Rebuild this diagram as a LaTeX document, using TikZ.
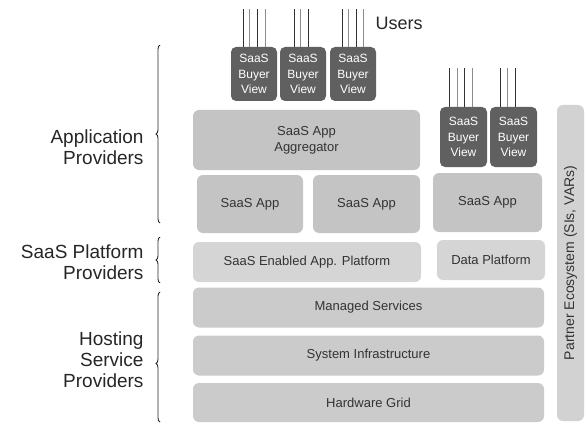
\documentclass[tikz,border=0pt]{standalone}
\usepackage{fontspec}
\setmainfont{Liberation Sans}
\usetikzlibrary{decorations.pathreplacing,calc}

\definecolor{viewgray}{HTML}{606060}
\definecolor{appgray}{HTML}{C4C4C4}
\definecolor{platgray}{HTML}{D5D5D5}
\definecolor{hostgray}{HTML}{CBCBCB}
\definecolor{bargray}{HTML}{D2D2D2}
\definecolor{inkgray}{HTML}{333333}

\tikzset{
  layer/.style={rounded corners=6pt, inner sep=0pt, align=center,
    text=inkgray, font=\fontsize{13}{16}\selectfont},
  appbox/.style={layer, fill=appgray},
  platbox/.style={layer, fill=platgray},
  hostbox/.style={layer, fill=hostgray, minimum width=351pt, minimum height=40pt},
  viewbox/.style={rounded corners=5pt, inner sep=0pt, align=center, fill=viewgray,
    text=white, font=\fontsize{12}{15.5}\selectfont},
  userline/.style={line width=0.9pt, draw=black!80},
  userlinelt/.style={line width=0.9pt, draw=black!45},
  rolebrace/.style={decorate, decoration={brace, amplitude=4pt},
    line width=0.9pt, draw=black!85},
  rolelabel/.style={anchor=east, align=right, text=black!85,
    font=\fontsize{19}{21}\selectfont},
}

\begin{document}
\begin{tikzpicture}[x=1pt, y=-1pt]
\useasboundingbox (0,0) rectangle (586,425);

% buyer views on top of the aggregator
\node[viewbox, minimum width=46pt, minimum height=54pt] (bv1) at (254,74) {SaaS\\Buyer\\View};
\node[viewbox, minimum width=46pt, minimum height=54pt] (bv2) at (303,74) {SaaS\\Buyer\\View};
\node[viewbox, minimum width=46pt, minimum height=54pt] (bv3) at (353,74) {SaaS\\Buyer\\View};
% buyer views on top of the standalone app
\node[viewbox, minimum width=47pt, minimum height=60pt] (bv4) at (463.5,137) {SaaS\\Buyer\\View};
\node[viewbox, minimum width=47pt, minimum height=60pt] (bv5) at (513.5,137) {SaaS\\Buyer\\View};

% application layer
\node[appbox, minimum width=227pt, minimum height=60pt] (agg) at (306.5,140) {SaaS App\\Aggregator};
\node[appbox, minimum width=106pt, minimum height=58pt] (app1) at (250,204) {SaaS App};
\node[appbox, minimum width=107pt, minimum height=58pt] (app2) at (366.5,204) {SaaS App};
\node[appbox, minimum width=109pt, minimum height=59pt] (app3) at (487.5,202.5) {SaaS App};

% platform layer
\node[platbox, minimum width=228pt, minimum height=40pt] (sep) at (307,262) {SaaS Enabled App. Platform};
\node[platbox, minimum width=108pt, minimum height=40pt] (dp) at (491,260) {Data Platform};

% hosting layers
\node[hostbox] (ms) at (368.5,307.5) {Managed Services};
\node[hostbox] (si) at (368.5,355.5) {System Infrastructure};
\node[hostbox, minimum height=39pt] (hg) at (368.5,402.5) {Hardware Grid};

% partner ecosystem bar
\node[layer, fill=bargray, minimum width=27pt, minimum height=316pt] (bar) at (570.5,263) {};
\node[rotate=90, text=inkgray, font=\fontsize{14}{16}\selectfont] (bartext) at (bar.center) {Partner Ecosystem (SIs, VARs)};

% users reaching the buyer views
\foreach \v/\offs in {bv1/{-11,-5,3,11}, bv2/{-9,-3,5}, bv3/{-11,-5,3,10}} {
  \foreach \dx [count=\i] in \offs {
    \ifodd\i \def\ls{userline}\else\def\ls{userlinelt}\fi
    \draw[\ls] ($(\v.north)+(\dx,0)$) -- ++(0,-38);
  }
}
\foreach \v/\offs in {bv4/{-14,-6,1,9}, bv5/{-13.5,-6.5,1.5}} {
  \foreach \dx [count=\i] in \offs {
    \ifodd\i \def\ls{userline}\else\def\ls{userlinelt}\fi
    \draw[\ls] ($(\v.north)+(\dx,0)$) -- ++(0,-39);
  }
}
\node[anchor=west, text=black!85, font=\fontsize{18}{20}\selectfont] (users) at (372,23) {Users};

% provider roles
\coordinate (apTop) at (160,45);
\coordinate (apBot) at (160,223);
\coordinate (spTop) at (160,237);
\coordinate (spBot) at (160,283);
\coordinate (hpTop) at (160,292);
\coordinate (hpBot) at (160,422);
\draw[rolebrace] (apBot) -- (apTop);
\draw[rolebrace] (spBot) -- (spTop);
\draw[rolebrace, decoration={aspect=0.45}] (hpBot) -- (hpTop);

\node[rolelabel] (aplabel) at (147,147) {Application\\Providers};
\node[rolelabel] (splabel) at (147,262.5) {SaaS Platform\\Providers};
\node[rolelabel] (hplabel) at (147,360) {Hosting\\Service\\Providers};
\end{tikzpicture}
\end{document}
